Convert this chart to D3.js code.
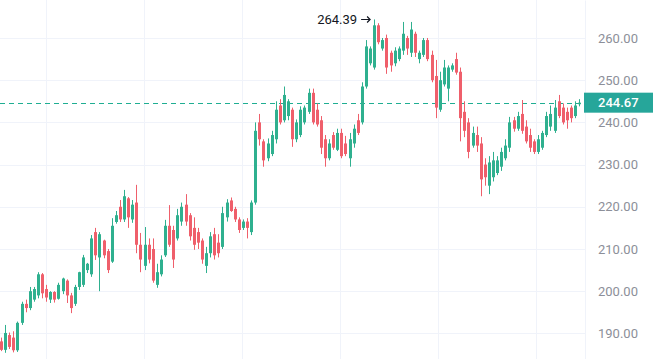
<!DOCTYPE html>
<html><head><meta charset="utf-8">
<script src="https://cdn.jsdelivr.net/npm/d3@7/dist/d3.min.js"></script>
<style>
html,body{margin:0;padding:0;background:#fff;overflow:hidden}
svg{display:block}
text{font-family:Roboto,"Noto Sans",sans-serif}
</style></head>
<body>
<svg id="c" width="653" height="359"></svg>
<script>
// ---- data ----
const open  = [188.1,186.1,189.6,189,186,192.5,197,196,198,199,204,200.5,198,199.8,198.2,200,202.5,199,197,201,201.5,205,204,214,208,
212,209.5,207,216.4,220,217,222,217,221,211,206,211,210,201.5,204,208.5,215.5,214.5,212.5,216.5,220.5,218,215,214,212,206,209,213.5,211.5,210.5,
217.5,221.5,219.5,217,215,216.5,214,221,240,235.5,231.5,232.5,236,244,240.5,241.5,243,236,237,240,242.5,247,243,240.5,236,231.5,
237,233.5,237.5,235,231.5,235,240.5,240,248.5,254,253,263,257.5,260,256.5,254,255,257,260,256.5,261,255,256,259.5,256,251,
243,249,248,252.5,255,252,242.5,240,234.5,237,235,230,225,227,228,229.5,231.5,234,240.5,238.5,242,239,237,235.5,233,234,
237,239,238,245,243.5,242.5,243.5,241.5,244.3];
const high  = [189,192,190.2,190.5,192.8,197.5,198,201,201,204.5,204.3,201.5,200,200,202,203.2,202.8,199.6,201.5,204.6,208.6,206.7,213.3,215,214,
212.2,210,217.3,219,221.6,224,222.3,221.6,225.2,213.8,215.2,212.5,212.5,206.5,208.5,216.9,220.4,215.5,219.5,221,223,218.5,217.5,215,212.5,210.5,
214,215,213.5,220,221.8,222.2,220,217.5,217,217.3,221.5,240,242,236,236.2,238,245,245.5,248.5,245.5,243.5,240.7,243.8,244,248,248,
244.5,241.5,237,236,237.7,238.5,238.5,236.8,237.5,239.5,242,249.5,259.5,258,264.39,263.5,260,260.8,257,257.8,258,263.8,260.5,263.8,
261.5,257,260,260,257,254.8,252,254.8,253.5,254,256.5,253,245,241,239,239,236.5,231.5,232,233,232,234,236,241.3,241.3,242.5,
245.3,240.5,238.5,236,237,238,242.5,244,245.3,246.5,244.5,243.5,244,245,245.5];
const low   = [185.8,185.4,186.3,185.5,185.6,192,195,195.5,197.5,198.3,198.3,197.5,197.2,197.3,198,199.3,197.2,194.8,196.5,200.3,201,204.3,203.4,207.4,200,
207.8,204.3,206.7,216,216.4,216.4,215,216.2,209,204.5,205,206.6,202,200.8,203.5,208.1,210.5,205.5,212,215.5,215.5,212,209.8,210,206.5,204.3,
208,207.5,208,210,216.5,218.8,216.4,213.8,214.5,212.5,213.3,220.5,234.5,229.5,230.8,232,235,239.5,240,240.5,234.2,235.3,236.5,239.5,242,239.5,
239,232.5,229.5,231,233.5,233.2,231.5,232,229.5,234,237,239.5,248,253.5,252.5,258.5,257,251.5,252,253.3,254.5,256,256,255.5,
255.5,254,255.5,254.5,249.5,241,242.5,248.5,245,252,251.3,235.5,236.5,231.5,234,233,222.5,225,223,226,227.5,228.5,231,233,237.8,238,
237.3,235,233,232.5,232.5,233.5,236.5,238,237.5,241,239.5,238.5,240,241,243.8];
const close = [186.1,190.1,186.8,186,192.5,197,196,200,200.5,204,199.5,198.5,199.8,198,201.5,203,199,196,201,204.5,208,206.5,212.5,208.5,213.5,
208.5,205,215.5,218,217,222.5,217.5,220.5,211,207.5,211,207.5,202.5,204.5,207.5,215.5,211,207.5,218,220,216.5,213,211,211.5,207.5,209,
213,208.5,209,218.5,221,219,217,214.5,216.5,215,221,238,236,231,235,237,243,240,246.5,245,236,240,243,243.5,247,240,
239.5,234,231.5,235,234,237.5,232,232.5,236,238.5,237.5,248.5,258,257.5,263,259,259.5,253,253.5,257,257.5,261,257.5,262,
256.5,256.5,259.5,255,250,243.5,250,253,253,253.5,251.8,241,238,233,237.5,234.5,226.5,227,230.5,231,231,233,234.5,240,238.5,241.5,
238,235.5,234,233,236,237.5,241.5,242,243.5,241.5,240,240.5,241,244,244.67];
const priceTicks = [190,200,210,220,230,240,250,260,270];
const timeGridIdx = [10.9,34.8,58.7,82.6,106.5,130.4];
const lastPrice = 244.67;
const maxPrice = 264.39;

// ---- layout ----
const W = 653, H = 359, plotRight = 585;
const up = "#2fb08f", down = "#ef5f6b";
const svg = d3.select("#c");
const n = close.length;
const x = d3.scaleLinear().domain([0, n-1]).range([1, 579.1]);
const y = d3.scaleLinear().domain([183.93, 269.0]).range([H, 0]);

// grid
svg.append("g").selectAll("line.h").data(priceTicks).join("line")
  .attr("x1",0).attr("x2",plotRight).attr("y1",d=>Math.round(y(d))+0.5).attr("y2",d=>Math.round(y(d))+0.5)
  .attr("stroke","#f0f3fa").attr("stroke-width",1);
svg.append("g").selectAll("line.v").data(timeGridIdx).join("line")
  .attr("x1",d=>Math.round(x(d))+0.5).attr("x2",d=>Math.round(x(d))+0.5).attr("y1",0).attr("y2",H)
  .attr("stroke","#f0f3fa").attr("stroke-width",1);

// right axis via d3.axisRight
const axisG = svg.append("g").attr("transform",`translate(${plotRight},0)`)
  .call(d3.axisRight(y).tickValues(priceTicks).tickFormat(d3.format(".2f")).tickSize(0).tickPadding(13));
axisG.select(".domain").attr("stroke","#f0f3fa");
axisG.selectAll("text").attr("fill","#8c8f99").style("font-size","13px").style("font-family","Roboto");

// dashed last-price line
svg.append("line").attr("x1",0).attr("x2",plotRight).attr("y1",Math.round(y(lastPrice))+0.5).attr("y2",Math.round(y(lastPrice))+0.5)
  .attr("stroke","#1fae92").attr("stroke-width",1.1).attr("stroke-dasharray","5,4");

// candles
const idx = d3.range(n);
const g = svg.append("g");
g.selectAll("line.w").data(idx).join("line")
  .attr("x1",i=>Math.round(x(i))+0.5).attr("x2",i=>Math.round(x(i))+0.5)
  .attr("y1",i=>y(high[i])).attr("y2",i=>y(low[i]))
  .attr("stroke",i=>close[i]>=open[i]?up:down).attr("stroke-width",1);
g.selectAll("rect").data(idx).join("rect")
  .attr("x",i=>Math.round(x(i))-1).attr("width",3)
  .attr("y",i=>y(Math.max(open[i],close[i])))
  .attr("height",i=>Math.max(1,Math.abs(y(open[i])-y(close[i]))))
  .attr("fill",i=>close[i]>=open[i]?up:down);

// max label with arrow
const imax = d3.maxIndex(high);
const mx = x(imax), my = y(maxPrice);
svg.append("text").attr("x",mx-17).attr("y",my).attr("dy","0.35em").attr("text-anchor","end")
  .attr("fill","#131722").style("font-size","13px").text(d3.format(".2f")(maxPrice));
const ay = Math.round(my)+0.5;
svg.append("path").attr("d",`M${mx-13},${ay}H${mx-4}M${mx-7},${ay-3}L${mx-4},${ay}L${mx-7},${ay+3}`)
  .attr("fill","none").attr("stroke","#131722").attr("stroke-width",1.2);

// last price label
const ly = y(lastPrice);
svg.append("rect").attr("x",plotRight-1).attr("y",ly-10).attr("width",W-plotRight+1).attr("height",20).attr("fill","#26a69a");
svg.append("text").attr("x",plotRight+13).attr("y",ly).attr("dy","0.35em").attr("fill","#fff")
  .style("font-size","13px").style("font-weight","500").text(d3.format(".2f")(lastPrice));
</script>
</body></html>
